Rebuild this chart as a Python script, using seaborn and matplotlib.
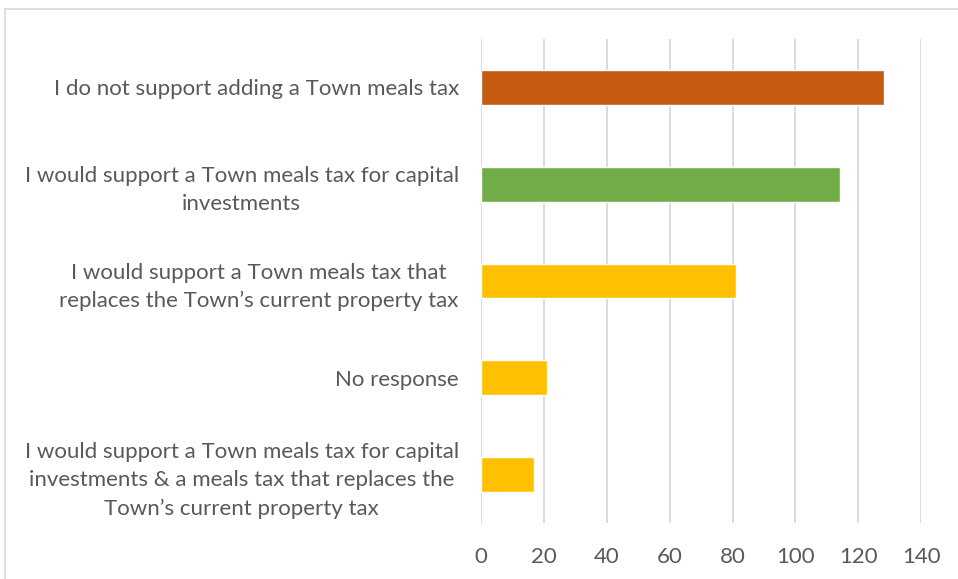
import matplotlib
matplotlib.use("Agg")
import matplotlib.pyplot as plt
import seaborn as sns
from matplotlib.patches import Rectangle

categories = [
    "I do not support adding a Town meals tax",
    "I would support a Town meals tax for capital\ninvestments",
    "I would support a Town meals tax that\nreplaces the Town\u2019s current property tax",
    "No response",
    "I would support a Town meals tax for capital\ninvestments & a meals tax that replaces the\nTown\u2019s current property tax",
]
counts = [128, 114, 81, 21, 17]
bar_colors = ["#C55A11", "#70AD47", "#FFC000", "#FFC000", "#FFC000"]
x_ticks = [0, 20, 40, 60, 80, 100, 120, 140]

sns.set_theme(style="white")
plt.rcParams["font.family"] = ["Lato", "DejaVu Sans"]

W, H = 958, 579
fig = plt.figure(figsize=(W / 100, H / 100), dpi=100)
ax = fig.add_axes([481 / W, 1 - 523 / H, (921.3 - 481) / W, (523 - 39) / H])

sns.barplot(x=counts, y=categories, hue=categories, palette=bar_colors,
            orient="h", width=0.36, legend=False, saturation=1, ax=ax)

ax.set_xlim(0, 140)
ax.set_ylim(len(categories) - 0.5, -0.5)
ax.set_xticks(x_ticks)
ax.set_xticklabels([str(t) for t in x_ticks])
ax.grid(axis="x", color="#D9D9D9", linewidth=1.3)
ax.set_axisbelow(True)
for s in ax.spines.values():
    s.set_visible(False)
ax.set_xlabel("")
ax.set_ylabel("")

ax.tick_params(axis="x", length=0, pad=17, labelsize=16, labelcolor="#595959")
ax.tick_params(axis="y", length=0, pad=16, labelsize=16, labelcolor="#595959")
for lbl in ax.get_yticklabels():
    lbl.set_multialignment("center")
    lbl.set_linespacing(1.5)

# chart frame
fig.patches.append(Rectangle((4.5 / W, -0.1), 1, 1.1 - 9.5 / H, transform=fig.transFigure,
                             fill=False, edgecolor="#D9D9D9", linewidth=1.2))

fig.savefig("out.png", dpi=100, facecolor="white")
